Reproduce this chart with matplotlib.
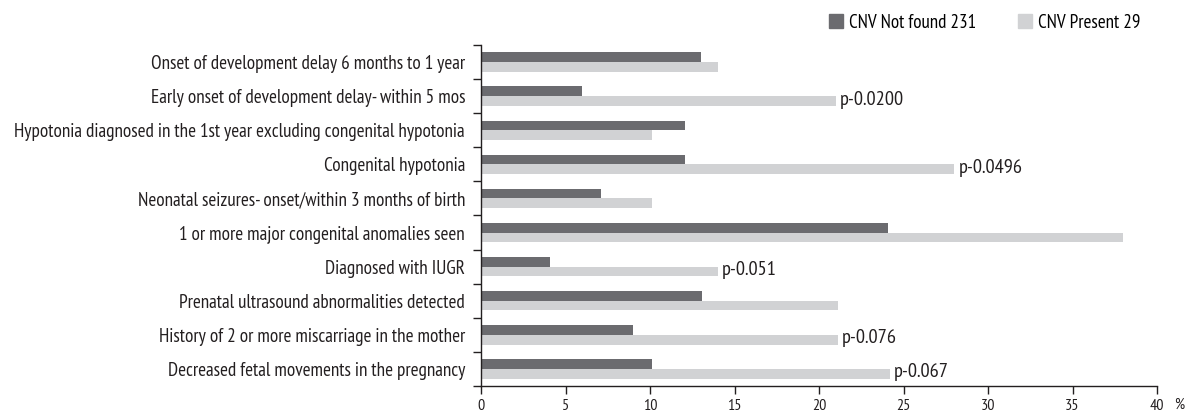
import matplotlib
matplotlib.use("Agg")
import matplotlib.pyplot as plt
from matplotlib import font_manager
from matplotlib.patches import Patch
import numpy as np

categories = [
    "Onset of development delay 6 months to 1 year",
    "Early onset of development delay- within 5 mos",
    "Hypotonia diagnosed in the 1st year excluding congenital hypotonia",
    "Congenital hypotonia",
    "Neonatal seizures- onset/within 3 months of birth",
    "1 or more major congenital anomalies seen",
    "Diagnosed with IUGR",
    "Prenatal ultrasound abnormalities detected",
    "History of 2 or more miscarriage in the mother",
    "Decreased fetal movements in the pregnancy",
]
cnv_not_found = [13.0, 6.0, 12.1, 12.1, 7.1, 24.1, 4.1, 13.1, 9.0, 10.1]
cnv_present = [14.0, 21.0, 10.1, 28.0, 10.1, 38.0, 14.0, 21.1, 21.1, 24.2]
p_labels = [None, "p-0.0200", None, "p-0.0496", None, None, "p-0.051", None, "p-0.076", "p-0.067"]
series_names = ["CNV Not found 231", "CNV Present 29"]
x_ticks = [0, 5, 10, 15, 20, 25, 30, 35, 40]

# Pick a narrow sans family for the condensed typography
names = {f.name for f in font_manager.fontManager.ttflist}
family = "DejaVu Sans"
for cand in ["PT Sans Narrow", "Asap Condensed", "Roboto Condensed", "Archivo Narrow",
             "Fira Sans Condensed", "Encode Sans Condensed", "IBM Plex Sans Condensed",
             "Liberation Sans Narrow"]:
    if cand in names:
        family = cand
        break
plt.rcParams["font.family"] = [family, "DejaVu Sans"]

dark = "#6b6b6f"
light = "#d1d2d4"
axis_col = "#231f20"
text_col = "#231f20"

fig = plt.figure(figsize=(11.87, 4.11), dpi=100)
renderer = fig.canvas.get_renderer()


def size_for(text, width_px, base=10.0):
    t = fig.text(0, 0, text, fontsize=base)
    w = t.get_window_extent(renderer).width
    t.remove()
    return base * width_px / w


label_fs = size_for(categories[2], 453)
legend_fs = size_for(series_names[0], 127)
p_fs = size_for("p-0.0200", 64)
tick_fs = 11.5

ax = fig.add_axes([481 / 1187, 1 - 386 / 411, 676 / 1187, 341 / 411])

y = np.arange(len(categories))
h = 0.283
ax.barh(y - h / 2, cnv_not_found, height=h, color=dark, zorder=2)
ax.barh(y + h / 2, cnv_present, height=h, color=light, zorder=2)

for yi, val, lab in zip(y, cnv_present, p_labels):
    if lab:
        ax.text(val + 0.25, yi + h / 2 - 0.04, lab, va="center", ha="left",
                fontsize=p_fs, color=text_col)

ax.set_xlim(0, 40)
ax.set_ylim(len(categories) - 0.5, -0.5)
ax.set_xticks(x_ticks)
ax.set_xticklabels([str(t) for t in x_ticks], fontsize=tick_fs, color=text_col)
ax.set_yticks(y)
ax.set_yticklabels(categories, fontsize=label_fs, color=text_col)
ax.set_yticks(np.arange(-0.5, len(categories)), minor=True)
ax.tick_params(axis="y", which="major", length=0, pad=11.5)
ax.tick_params(axis="y", which="minor", length=6, width=1, color=axis_col)
ax.tick_params(axis="x", length=6, width=1, color=axis_col, pad=3.5)

for s in ["top", "right"]:
    ax.spines[s].set_visible(False)
for s in ["left", "bottom"]:
    ax.spines[s].set_color(axis_col)
    ax.spines[s].set_linewidth(1)

fig.text(1179 / 1187, 1 - 405 / 411, "%", fontsize=tick_fs, color=text_col,
         ha="center", va="center")

handles = [Patch(color=dark), Patch(color=light)]
fig.legend(handles, series_names, loc="center right", ncol=2, frameon=False,
           bbox_to_anchor=(1140 / 1187, 1 - 23 / 411), fontsize=legend_fs,
           handlelength=0.75, handleheight=0.75, handletextpad=0.3,
           columnspacing=2.2, borderaxespad=0, borderpad=0)

fig.savefig("out.png", dpi=100)
